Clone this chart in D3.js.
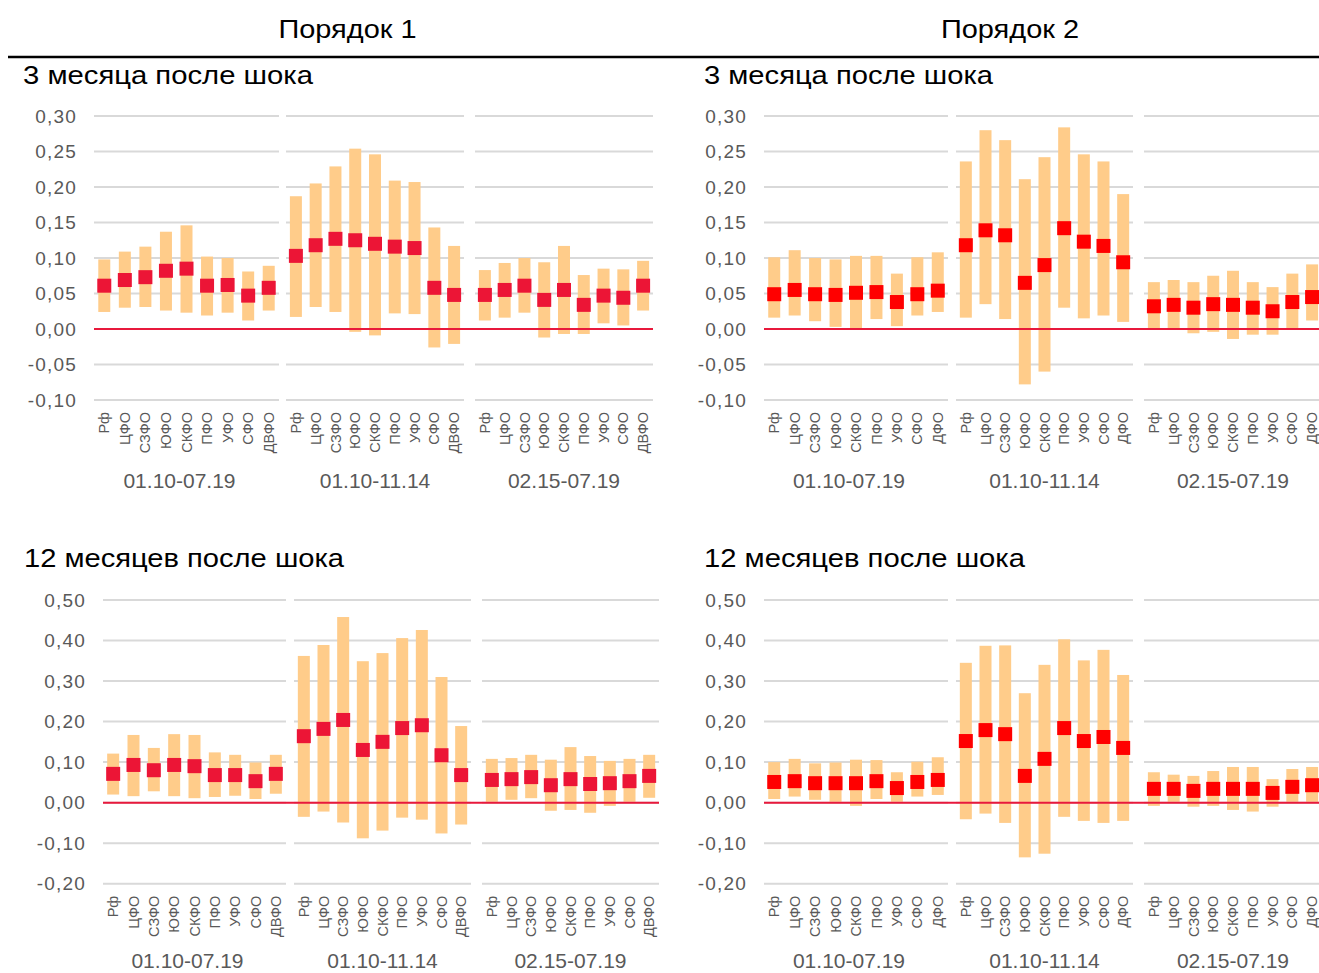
<!DOCTYPE html>
<html><head><meta charset="utf-8">
<script src="https://cdn.jsdelivr.net/npm/d3@7"></script>
<style>body{margin:0;background:#fff}svg{display:block;font-family:"Liberation Sans",Arial,sans-serif}</style>
</head><body><svg id="c" width="1319" height="973"></svg>
<script>
// ---------- data ----------
const regions1 = ["Рф","ЦФО","СЗФО","ЮФО","СКФО","ПФО","УФО","СФО","ДВФО"];
const regions2 = ["Рф","ЦФО","СЗФО","ЮФО","СКФО","ПФО","УФО","СФО","ДФО"];
const periods = ["01.10-07.19","01.10-11.14","02.15-07.19"];
const ticks3m = [-0.10,-0.05,0,0.05,0.10,0.15,0.20,0.25,0.30];
const ticks12m = [-0.20,-0.10,0,0.10,0.20,0.30,0.40,0.50];
const orderTitles = ["Порядок 1","Порядок 2"];
const horizonTitles = ["3 месяца после шока","12 месяцев после шока"];

// Порядок 1, 3 месяца (27 = 3 periods x 9 regions)
const o1m3Mid = [0.061,0.069,0.073,0.082,0.085,0.061,0.062,0.047,0.058, 0.103,0.118,0.127,0.125,0.120,0.116,0.114,0.058,0.048, 0.048,0.055,0.061,0.041,0.055,0.034,0.047,0.044,0.061];
const o1m3Lo  = [0.024,0.030,0.031,0.026,0.023,0.019,0.023,0.012,0.026, 0.017,0.031,0.024,-0.004,-0.009,0.022,0.021,-0.026,-0.021, 0.012,0.016,0.023,-0.012,-0.007,-0.007,0.008,0.005,0.026];
const o1m3Hi  = [0.098,0.109,0.116,0.137,0.146,0.102,0.100,0.081,0.089, 0.187,0.205,0.229,0.254,0.246,0.209,0.207,0.143,0.117, 0.083,0.093,0.100,0.094,0.117,0.076,0.085,0.084,0.096];
// Порядок 2, 3 месяца
const o2m3Mid = [0.049,0.055,0.049,0.048,0.051,0.052,0.038,0.049,0.054, 0.118,0.139,0.132,0.065,0.090,0.142,0.123,0.117,0.094, 0.032,0.034,0.030,0.035,0.034,0.030,0.025,0.038,0.045];
const o2m3Lo  = [0.016,0.019,0.011,0.003,0.001,0.014,0.004,0.019,0.024, 0.016,0.035,0.014,-0.078,-0.060,0.030,0.015,0.019,0.010, 0.001,0.001,-0.006,-0.004,-0.014,-0.008,-0.008,0.001,0.012];
const o2m3Hi  = [0.101,0.111,0.100,0.098,0.103,0.103,0.078,0.101,0.108, 0.236,0.280,0.266,0.211,0.242,0.284,0.246,0.236,0.190, 0.066,0.069,0.066,0.075,0.082,0.066,0.059,0.078,0.091];
// Порядок 1, 12 месяцев
const o1m12Mid = [0.071,0.093,0.080,0.093,0.090,0.068,0.068,0.053,0.071, 0.164,0.182,0.204,0.130,0.150,0.184,0.191,0.117,0.068, 0.056,0.058,0.063,0.043,0.058,0.046,0.048,0.053,0.066];
const o1m12Lo  = [0.020,0.016,0.028,0.016,0.011,0.014,0.017,0.009,0.022, -0.035,-0.022,-0.049,-0.088,-0.069,-0.037,-0.042,-0.076,-0.054, 0.002,0.007,0.011,-0.020,-0.018,-0.025,-0.008,0.002,0.012];
const o1m12Hi  = [0.121,0.167,0.135,0.169,0.167,0.124,0.118,0.099,0.118, 0.362,0.389,0.458,0.349,0.369,0.406,0.426,0.310,0.189, 0.108,0.110,0.118,0.106,0.137,0.115,0.103,0.108,0.118];
// Порядок 2, 12 месяцев
const o2m12Mid = [0.051,0.053,0.048,0.048,0.048,0.053,0.036,0.051,0.056, 0.152,0.179,0.169,0.066,0.108,0.184,0.152,0.162,0.135, 0.034,0.034,0.029,0.034,0.034,0.034,0.024,0.039,0.043];
const o2m12Lo  = [0.009,0.015,0.007,0.002,-0.008,0.009,0.002,0.015,0.019, -0.041,-0.027,-0.050,-0.135,-0.126,-0.035,-0.045,-0.050,-0.045, -0.008,0.002,-0.010,-0.008,-0.018,-0.022,-0.010,0.002,0.002];
const o2m12Hi  = [0.100,0.108,0.097,0.099,0.106,0.105,0.075,0.101,0.112, 0.345,0.387,0.388,0.270,0.340,0.403,0.351,0.377,0.315, 0.075,0.069,0.066,0.078,0.088,0.088,0.058,0.083,0.088];

// ---------- layout ----------
const svg = d3.select("#c");
svg.append("rect").attr("width",1319).attr("height",973).attr("fill","#fff");

const panels = [
  {mid:o1m3Mid, lo:o1m3Lo, hi:o1m3Hi, cats:regions1, ticks:ticks3m, title:horizonTitles[0], tw:290,
   groups:[[94,279],[286,464],[475,653]], yRange:[400,116], tx:23, ty:84, marker:"#EC1536"},
  {mid:o2m3Mid, lo:o2m3Lo, hi:o2m3Hi, cats:regions2, ticks:ticks3m, title:horizonTitles[0], tw:289,
   groups:[[764,948],[956,1133],[1144,1322]], yRange:[400,116], tx:704, ty:84, marker:"#FF0000"},
  {mid:o1m12Mid, lo:o1m12Lo, hi:o1m12Hi, cats:regions1, ticks:ticks12m, title:horizonTitles[1], tw:320,
   groups:[[103,286],[294,471],[482,659]], yRange:[883.7,600], tx:24, ty:567, marker:"#EC1536"},
  {mid:o2m12Mid, lo:o2m12Lo, hi:o2m12Hi, cats:regions2, ticks:ticks12m, title:horizonTitles[1], tw:321,
   groups:[[764,948],[956,1133],[1144,1322]], yRange:[883.7,600], tx:704, ty:567, marker:"#FF0000"}
];

const gray = "#595959";
const fmt = v => v.toFixed(2).replace(".", ",");

// header
[347.5, 1010].forEach((x,i) => {
  svg.append("text").attr("x",x).attr("y",38).attr("text-anchor","middle")
    .attr("font-size",26).attr("fill","#000")
    .attr("textLength",138).attr("lengthAdjust","spacingAndGlyphs").text(orderTitles[i]);
});
svg.append("line").attr("x1",8).attr("x2",1319).attr("y1",57).attr("y2",57)
  .attr("stroke","#000").attr("stroke-width",2.5);

panels.forEach(p => {
  const g = svg.append("g");
  const t0 = p.ticks[0], t1 = p.ticks[p.ticks.length-1];
  const y = d3.scaleLinear().domain([t0, t1]).range(p.yRange);

  g.append("text").attr("x",p.tx).attr("y",p.ty).attr("font-size",25).attr("fill","#000")
    .attr("textLength",p.tw).attr("lengthAdjust","spacingAndGlyphs").text(p.title);

  // y labels
  p.ticks.forEach(t => {
    g.append("text").attr("x",p.groups[0][0]-17).attr("y",y(t)).attr("dy","0.35em")
      .attr("text-anchor","end").attr("font-size",19).attr("letter-spacing","1.2px")
      .attr("fill",gray).text(fmt(t));
  });

  const scales = p.groups.map(r => d3.scaleBand().domain(p.cats).range(r));

  // gridlines
  p.groups.forEach(r => {
    p.ticks.forEach(t => {
      g.append("line").attr("x1",r[0]).attr("x2",r[1]).attr("y1",y(t)).attr("y2",y(t))
        .attr("stroke","#D9D9D9").attr("stroke-width",2);
    });
  });

  // bars
  p.groups.forEach((r,gi) => {
    const xs = scales[gi];
    p.cats.forEach((c,ci) => {
      const k = gi*9+ci;
      const cx = xs(c) + xs.bandwidth()/2;
      g.append("rect").attr("x",cx-6).attr("width",12)
        .attr("y",y(p.hi[k])).attr("height",y(p.lo[k])-y(p.hi[k]))
        .attr("fill","#FFCC8A");
    });
  });

  // zero line
  g.append("line").attr("x1",p.groups[0][0]).attr("x2",p.groups[2][1])
    .attr("y1",y(0)).attr("y2",y(0)).attr("stroke","#E8193C").attr("stroke-width",2);

  // markers + labels
  p.groups.forEach((r,gi) => {
    const xs = scales[gi];
    p.cats.forEach((c,ci) => {
      const k = gi*9+ci;
      const cx = xs(c) + xs.bandwidth()/2;
      g.append("rect").attr("x",cx-7).attr("y",y(p.mid[k])-7).attr("width",14).attr("height",14)
        .attr("fill",p.marker);
      g.append("text").attr("transform",`translate(${cx},${y(t0)+12}) rotate(-90)`)
        .attr("dy","0.35em").attr("text-anchor","end").attr("font-size",14.5).attr("fill",gray).text(c);
    });
    const gx = (r[0]+r[1])/2 + (gi===0 ? -7 : 0);
    g.append("text").attr("x",gx).attr("y",Math.min(y(t0)+88, 968)).attr("text-anchor","middle")
      .attr("font-size",21).attr("fill",gray).text(periods[gi]);
  });
});
</script></body></html>
